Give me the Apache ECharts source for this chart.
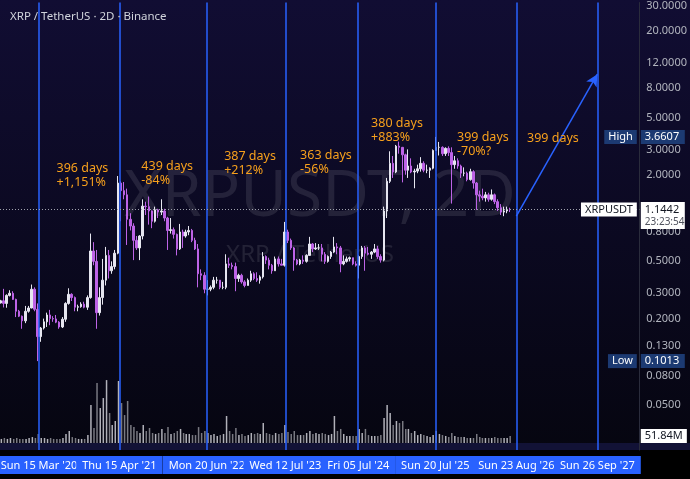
<!DOCTYPE html>
<html>
<head>
<meta charset="utf-8">
<title>XRPUSDT 2D</title>
<script src="https://cdn.jsdelivr.net/npm/echarts@6.0.0/dist/echarts.min.js"></script>
<style>
  html, body { margin: 0; padding: 0; background: #07061a; }
  #chart { width: 690px; height: 479px; }
</style>
</head>
<body>
<div id="chart"></div>
<script>
// half-month candles, centre date of each period
var dates = [
  '2019-09-08','2019-09-23','2019-10-08','2019-10-23','2019-11-08','2019-11-23','2019-12-08','2019-12-23',
  '2020-01-08','2020-01-23','2020-02-08','2020-02-23','2020-03-08','2020-03-23','2020-04-08','2020-04-23',
  '2020-05-08','2020-05-23','2020-06-08','2020-06-23','2020-07-08','2020-07-23','2020-08-08','2020-08-23',
  '2020-09-08','2020-09-23','2020-10-08','2020-10-23','2020-11-08','2020-11-23','2020-12-08','2020-12-23',
  '2021-01-08','2021-01-23','2021-02-08','2021-02-23','2021-03-08','2021-03-23','2021-04-08','2021-04-23',
  '2021-05-08','2021-05-23','2021-06-08','2021-06-23','2021-07-08','2021-07-23','2021-08-08','2021-08-23',
  '2021-09-08','2021-09-23','2021-10-08','2021-10-23','2021-11-08','2021-11-23','2021-12-08','2021-12-23',
  '2022-01-08','2022-01-23','2022-02-08','2022-02-23','2022-03-08','2022-03-23','2022-04-08','2022-04-23',
  '2022-05-08','2022-05-23','2022-06-08','2022-06-23','2022-07-08','2022-07-23','2022-08-08','2022-08-23',
  '2022-09-08','2022-09-23','2022-10-08','2022-10-23','2022-11-08','2022-11-23','2022-12-08','2022-12-23',
  '2023-01-08','2023-01-23','2023-02-08','2023-02-23','2023-03-08','2023-03-23','2023-04-08','2023-04-23',
  '2023-05-08','2023-05-23','2023-06-08','2023-06-23','2023-07-08','2023-07-23','2023-08-08','2023-08-23',
  '2023-09-08','2023-09-23','2023-10-08','2023-10-23','2023-11-08','2023-11-23','2023-12-08','2023-12-23',
  '2024-01-08','2024-01-23','2024-02-08','2024-02-23','2024-03-08','2024-03-23','2024-04-08','2024-04-23',
  '2024-05-08','2024-05-23','2024-06-08','2024-06-23','2024-07-08','2024-07-23','2024-08-08','2024-08-23',
  '2024-09-08','2024-09-23','2024-10-08','2024-10-23','2024-11-08','2024-11-23','2024-12-08','2024-12-23',
  '2025-01-08','2025-01-23','2025-02-08','2025-02-23','2025-03-08','2025-03-23','2025-04-08','2025-04-23',
  '2025-05-08','2025-05-23','2025-06-08','2025-06-23','2025-07-08','2025-07-23','2025-08-08','2025-08-23',
  '2025-09-08','2025-09-23','2025-10-08','2025-10-23','2025-11-08','2025-11-23','2025-12-08','2025-12-23',
  '2026-01-08','2026-01-23','2026-02-08','2026-02-23','2026-03-08','2026-03-23','2026-04-08','2026-04-23',
  '2026-05-08','2026-05-23','2026-06-08','2026-06-23','2026-07-08','2026-07-23'
];
// [open, close, low, high]
var candles = [
  [0.257,0.266,0.255,0.270],[0.266,0.255,0.239,0.322],[0.255,0.290,0.238,0.295],[0.290,0.300,0.285,0.315],
  [0.300,0.272,0.270,0.310],[0.272,0.225,0.205,0.275],[0.225,0.208,0.205,0.230],[0.208,0.193,0.170,0.210],
  // 2020
  [0.193,0.225,0.186,0.245],[0.225,0.237,0.220,0.245],[0.237,0.320,0.236,0.345],[0.320,0.232,0.225,0.330],
  [0.232,0.150,0.1013,0.255],[0.150,0.172,0.138,0.175],[0.172,0.190,0.168,0.200],[0.190,0.212,0.175,0.220],
  [0.212,0.200,0.180,0.230],[0.200,0.199,0.190,0.208],[0.199,0.189,0.186,0.212],[0.189,0.175,0.170,0.192],
  [0.175,0.198,0.172,0.205],[0.198,0.255,0.190,0.260],[0.255,0.295,0.250,0.325],[0.295,0.280,0.265,0.300],
  [0.280,0.240,0.225,0.285],[0.240,0.242,0.225,0.250],[0.242,0.252,0.238,0.260],[0.252,0.240,0.236,0.262],
  [0.240,0.280,0.230,0.290],[0.280,0.590,0.275,0.780],[0.590,0.500,0.470,0.680],[0.500,0.220,0.170,0.600],
  // 2021
  [0.220,0.280,0.210,0.330],[0.280,0.370,0.250,0.520],[0.370,0.550,0.340,0.630],[0.550,0.430,0.380,0.600],
  [0.430,0.460,0.410,0.500],[0.460,0.570,0.440,0.600],[0.570,1.750,0.560,1.960],[1.750,1.550,0.950,1.800],
  [1.550,1.450,1.350,1.780],[1.450,0.980,0.650,1.600],[0.980,0.880,0.820,1.080],[0.880,0.700,0.510,0.920],
  [0.700,0.620,0.600,0.750],[0.620,0.750,0.510,0.760],[0.750,1.210,0.710,1.350],[1.210,1.200,1.050,1.300],
  [1.200,1.120,0.900,1.410],[1.120,0.950,0.850,1.130],[0.950,1.140,0.930,1.200],[1.140,1.100,1.000,1.160],
  [1.100,1.120,1.050,1.350],[1.120,1.000,0.950,1.160],[1.000,0.820,0.600,1.020],[0.820,0.830,0.780,1.000],
  // 2022
  [0.830,0.770,0.720,0.860],[0.770,0.610,0.550,0.780],[0.610,0.800,0.600,0.910],[0.800,0.750,0.620,0.830],
  [0.750,0.800,0.730,0.830],[0.800,0.820,0.760,0.880],[0.820,0.700,0.680,0.840],[0.700,0.610,0.600,0.730],
  [0.610,0.410,0.330,0.660],[0.410,0.400,0.370,0.440],[0.400,0.320,0.300,0.420],[0.320,0.320,0.290,0.370],
  [0.320,0.330,0.310,0.340],[0.330,0.370,0.320,0.390],[0.370,0.370,0.350,0.390],[0.370,0.330,0.320,0.370],
  [0.330,0.330,0.320,0.360],[0.330,0.480,0.320,0.560],[0.480,0.470,0.450,0.530],[0.470,0.460,0.440,0.490],
  [0.460,0.380,0.310,0.490],[0.380,0.400,0.360,0.410],[0.400,0.360,0.350,0.410],[0.360,0.340,0.330,0.370],
  // 2023
  [0.340,0.370,0.340,0.380],[0.370,0.410,0.360,0.430],[0.410,0.380,0.370,0.420],[0.380,0.370,0.360,0.420],
  [0.370,0.390,0.350,0.400],[0.390,0.540,0.380,0.580],[0.540,0.510,0.480,0.550],[0.510,0.470,0.440,0.530],
  [0.470,0.430,0.410,0.480],[0.430,0.520,0.430,0.540],[0.520,0.480,0.460,0.540],[0.480,0.470,0.470,0.520],
  [0.470,0.800,0.460,0.940],[0.800,0.700,0.670,0.830],[0.700,0.620,0.600,0.720],[0.620,0.510,0.430,0.630],
  [0.510,0.480,0.470,0.520],[0.480,0.510,0.470,0.520],[0.510,0.500,0.480,0.550],[0.500,0.550,0.490,0.560],
  [0.550,0.660,0.550,0.740],[0.660,0.610,0.580,0.670],[0.610,0.620,0.600,0.670],[0.620,0.620,0.600,0.660],
  // 2024
  [0.620,0.560,0.500,0.660],[0.560,0.500,0.480,0.580],[0.500,0.540,0.490,0.550],[0.540,0.580,0.520,0.590],
  [0.580,0.630,0.570,0.740],[0.630,0.620,0.560,0.670],[0.620,0.480,0.420,0.640],[0.480,0.500,0.470,0.550],
  [0.500,0.520,0.490,0.540],[0.520,0.530,0.500,0.540],[0.530,0.480,0.470,0.530],[0.480,0.470,0.460,0.500],
  [0.470,0.540,0.380,0.550],[0.540,0.620,0.520,0.640],[0.620,0.570,0.430,0.640],[0.570,0.560,0.550,0.630],
  [0.560,0.580,0.520,0.590],[0.580,0.610,0.570,0.660],[0.610,0.540,0.520,0.640],[0.540,0.510,0.490,0.560],
  [0.510,1.120,0.500,1.200],[1.120,1.800,1.000,1.900],[1.800,2.400,1.750,2.910],[2.400,2.090,1.900,2.700],
  // 2025
  [2.090,3.160,2.050,3.220],[3.160,3.100,2.800,3.400],[3.100,2.750,1.770,3.120],[2.750,2.150,2.000,2.800],
  [2.150,2.300,1.900,3.000],[2.300,2.090,2.050,2.600],[2.090,2.120,1.610,2.200],[2.120,2.200,2.050,2.350],
  [2.200,2.400,2.100,2.650],[2.400,2.150,2.080,2.480],[2.150,2.150,2.050,2.350],[2.150,2.220,1.900,2.250],
  [2.220,2.950,2.180,3.000],[2.950,3.100,2.950,3.6607],[3.100,3.100,2.720,3.380],[3.100,2.800,2.700,3.150],
  [2.800,3.050,2.700,3.100],[3.050,2.850,2.700,3.150],[2.850,2.350,1.260,3.100],[2.350,2.500,2.200,2.700],
  [2.500,2.300,2.200,2.600],[2.300,2.050,1.900,2.350],[2.050,2.050,1.950,2.250],[2.050,1.850,1.800,2.100],
  // 2026
  [1.850,2.100,1.820,2.200],[2.100,1.750,1.600,2.150],[1.750,1.450,1.140,1.780],[1.450,1.420,1.300,1.550],
  [1.420,1.380,1.330,1.600],[1.380,1.450,1.300,1.520],[1.450,1.350,1.300,1.500],[1.350,1.450,1.320,1.580],
  [1.450,1.300,1.250,1.480],[1.300,1.180,1.120,1.350],[1.180,1.100,1.050,1.250],[1.100,1.120,1.030,1.200],
  [1.120,1.150,1.080,1.200],[1.150,1.1442,1.100,1.180]
];
// volume, millions
var volumes = [
  30,37,30,37,30,37,30,30,
  30,37,44,37,67,37,37,30,37,30,30,30,37,67,89,44,37,30,30,30,59,281,111,444,
  259,333,466,222,133,163,459,296,207,311,133,118,89,74,133,89,111,74,67,74,104,74,118,67,
  74,89,104,74,67,67,59,59,118,74,89,74,59,67,52,59,67,200,89,67,111,59,67,52,
  59,74,67,74,67,148,74,67,59,74,67,74,133,81,67,89,59,59,59,74,89,67,74,67,
  74,67,59,67,200,89,104,67,52,52,52,52,104,74,104,59,52,52,52,59,185,281,222,133,
  163,148,163,104,104,74,89,59,67,59,52,44,59,89,67,59,52,44,74,52,44,44,44,37,
  37,37,67,44,37,37,37,37,44,37,37,37,37,51.84
];

var priceTicks = [30, 20, 12, 8, 5, 3, 2, 0.8, 0.5, 0.3, 0.2, 0.13, 0.08, 0.05];
var cycleDates = ['2020-03-15','2021-04-15','2022-06-20','2023-07-12','2024-07-05','2025-07-20','2026-08-23','2027-09-26'];
var cycleLabels = ["Sun 15 Mar '20","Thu 15 Apr '21","Mon 20 Jun '22","Wed 12 Jul '23","Fri 05 Jul '24","Sun 20 Jul '25","Sun 23 Aug '26","Sun 26 Sep '27"];
var noteDates = ['2020-06-07','2021-07-30','2022-09-11','2023-09-20','2024-09-04','2025-11-01','2026-10-12'];
var notePrices = [1.97, 2.04, 2.39, 2.43, 4.04, 3.23, 3.56];
var noteTexts = ['396 days\n+1,151%','439 days\n-84%','387 days\n+212%','363 days\n-56%','380 days\n+883%','399 days\n-70%?','399 days'];
var projDates = ['2026-08-23','2027-09-26'];
var projPrices = [1.03, 10.0];
var lastPrice = 1.1442, lastVolume = 51.84, highPrice = 3.6607, lowPrice = 0.1013;

var DAY = 86400000;
function ts(s) { return Date.parse(s + 'T00:00:00Z'); }
var origin = ts('2020-03-15');
var xMin = origin - 191.9 * DAY;
var xMax = origin + 2957.7 * DAY;
var yMin = Math.log10(0.02443);
var yMax = Math.log10(31.47);
var lg = Math.log10;

var upColor = '#e6e6f0', downColor = '#bd63e6';
var candleData = candles.map(function (c, i) {
  return [ts(dates[i]), lg(c[0]), lg(c[1]), lg(c[2]), lg(c[3])];
});
var volumeData = volumes.map(function (v, i) {
  var up = candles[i][1] >= candles[i][0];
  return { value: [ts(dates[i]), v], itemStyle: { color: up ? 'rgba(220,220,228,0.8)' : 'rgba(150,150,158,0.8)' } };
});

var boxLabel = function (text, pos, bg, fg) {
  return {
    show: true, position: pos, distance: pos === 'right' ? 1 : 2,
    formatter: text, backgroundColor: bg, color: fg,
    fontSize: 11, lineHeight: 12, padding: [1, 4, 1, 4]
  };
};

var chart = echarts.init(document.getElementById('chart'), null, { renderer: 'canvas' });
var option = {
  backgroundColor: new echarts.graphic.LinearGradient(0, 0, 0, 1, [
    { offset: 0, color: '#110d33' }, { offset: 1, color: '#05050e' }
  ]),
  animation: false,
  textStyle: { fontFamily: 'Noto Sans' },
  title: {
    text: 'XRP / TetherUS · 2D · Binance', left: 5, top: 6,
    textStyle: { color: '#d1d4dc', fontSize: 11.5, fontWeight: 'normal' }
  },
  graphic: [
    { type: 'rect', left: 0, bottom: 29, z: 0, silent: true, shape: { width: 690, height: 7 }, style: { fill: '#121236' } },
    { type: 'rect', left: 0, bottom: 0, z: 0, silent: true, shape: { width: 690, height: 29 }, style: { fill: '#000000' } },
    { type: 'text', x: 320, y: 198, z: 0, silent: true,
      style: { text: 'XRPUSDT, 2D', textAlign: 'center', textVerticalAlign: 'middle', font: '64px "Noto Sans"', fill: 'rgba(255,255,255,0.1)' } },
    { type: 'text', x: 310, y: 255, z: 0, silent: true,
      style: { text: 'XRP / TetherUS', textAlign: 'center', textVerticalAlign: 'middle', font: '24px "Noto Sans"', fill: 'rgba(255,255,255,0.1)' } }
  ],
  grid: [
    { left: 0, right: 50, top: 0, bottom: 29 },
    { left: 0, right: 50, top: 320, bottom: 36 }
  ],
  xAxis: [
    { type: 'time', gridIndex: 0, min: xMin, max: xMax, axisLine: { show: false }, axisTick: { show: false }, axisLabel: { show: false }, splitLine: { show: false } },
    { type: 'time', gridIndex: 1, min: xMin, max: xMax, show: false }
  ],
  yAxis: [
    {
      type: 'value', gridIndex: 0, position: 'right', min: yMin, max: yMax,
      axisLine: { show: true, lineStyle: { color: '#2a2c3c', width: 1 } },
      axisTick: { show: false }, splitLine: { show: false },
      axisLabel: {
        customValues: priceTicks.map(lg), margin: 7, color: '#b2b5be', fontSize: 11,
        formatter: function (v) { return Math.pow(10, v).toFixed(4); }
      }
    },
    { type: 'value', gridIndex: 1, min: 0, max: 911, show: false }
  ],
  series: [
    {
      type: 'bar', xAxisIndex: 1, yAxisIndex: 1, data: volumeData, barWidth: 1.5, z: 1,
      markPoint: {
        symbol: 'circle', symbolSize: 1, itemStyle: { color: 'transparent' },
        data: [{ coord: [xMax, lastVolume], label: boxLabel('51.84M', 'right', '#ffffff', '#131722') }]
      }
    },
    {
      type: 'candlestick', xAxisIndex: 0, yAxisIndex: 0, data: candleData, barWidth: 2, z: 3,
      itemStyle: { color: upColor, color0: downColor, borderColor: upColor, borderColor0: downColor, borderWidth: 1 },
      markLine: {
        silent: true, symbol: ['none', 'none'], animation: false,
        data: cycleDates.map(function (d, i) {
          return {
            xAxis: ts(d), name: cycleLabels[i],
            lineStyle: { color: '#2962ff', width: 1.5, type: 'solid' },
            label: {
              show: true, position: 'start', distance: 6, formatter: '{b}',
              color: '#ffffff', backgroundColor: '#2962ff', fontSize: 11, padding: [4, 6, 3, 6]
            }
          };
        }).concat([{
          yAxis: lg(lastPrice),
          lineStyle: { color: '#a0a3ad', width: 1, type: [1, 2] },
          label: { show: false }
        }])
      },
      markPoint: {
        symbol: 'circle', symbolSize: 1, itemStyle: { color: 'transparent' }, silent: true,
        data: [
          { coord: [xMax, lg(highPrice)], label: Object.assign(boxLabel('3.6607', 'right', '#1c3a72', '#ffffff'), { width: 36 }) },
          { coord: [xMax, lg(highPrice)], label: boxLabel('High', 'left', '#1c3a72', '#ffffff') },
          { coord: [xMax, lg(lowPrice)], label: Object.assign(boxLabel('0.1013', 'right', '#1c3a72', '#ffffff'), { width: 36 }) },
          { coord: [xMax, lg(lowPrice)], label: boxLabel('Low', 'left', '#1c3a72', '#ffffff') },
          { coord: [xMax, lg(lastPrice)], label: boxLabel('XRPUSDT', 'left', '#ffffff', '#131722') },
          { coord: [xMax, lg(lastPrice)], label: {
              show: true, position: 'right', distance: 1, offset: [0, 6],
              formatter: '{a|1.1442}\n{b|23:23:54}', backgroundColor: '#ffffff', padding: [1, 4, 1, 4], width: 36,
              rich: { a: { color: '#131722', fontSize: 11, lineHeight: 13 }, b: { color: '#50535e', fontSize: 10, lineHeight: 12 } }
          } }
        ].concat(noteDates.map(function (d, i) {
          return {
            coord: [ts(d), lg(notePrices[i])],
            label: { show: true, position: 'right', distance: 0, formatter: noteTexts[i], color: '#f7a01c', fontSize: 12.5, lineHeight: 14 }
          };
        }))
      }
    },
    {
      type: 'line', xAxisIndex: 0, yAxisIndex: 0, data: [], z: 4,
      markLine: {
        silent: true, symbol: ['none', 'arrow'], symbolSize: [9, 12],
        lineStyle: { color: '#2962ff', width: 1.5, type: 'solid' },
        label: { show: false },
        data: [[
          { coord: [ts(projDates[0]), lg(projPrices[0])] },
          { coord: [ts(projDates[1]), lg(projPrices[1])] }
        ]]
      }
    }
  ]
};
chart.setOption(option);
</script>
</body>
</html>
